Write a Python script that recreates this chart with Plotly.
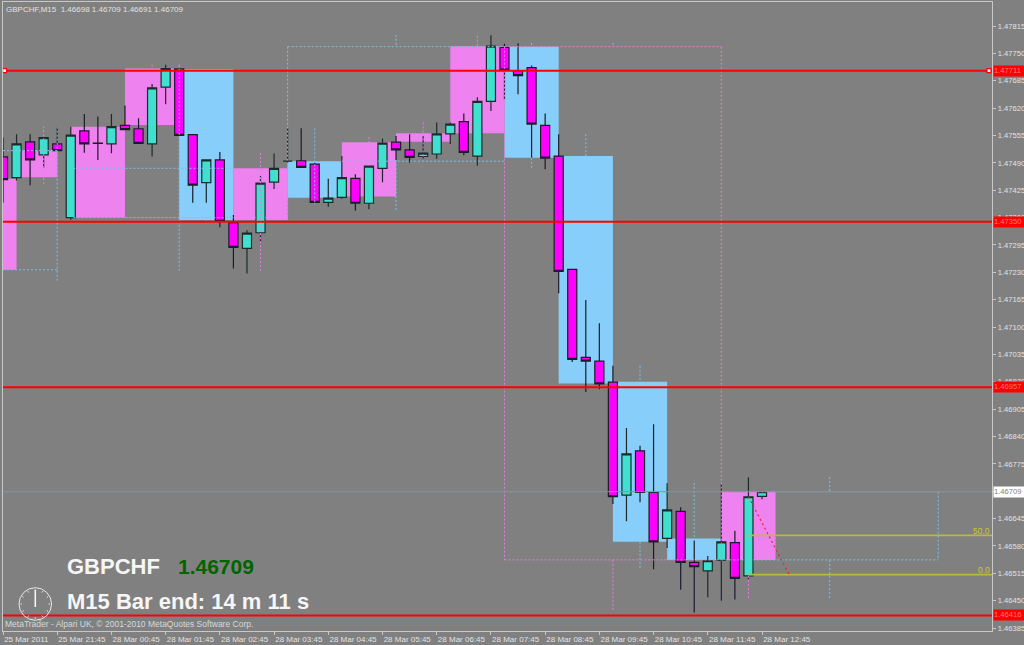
import math
import plotly.graph_objects as go

# ---------- data ----------
bar_index = list(range(57))
opens = [1.47504,1.47455,1.47540,1.47509,1.47535,1.47360,1.47566,1.47537,1.47535,1.47579,
         1.47571,1.47535,1.47670,1.47713,1.47557,1.47443,1.47497,1.47348,1.47287,1.47324,
         1.47444,1.47494,1.47495,1.47487,1.47396,1.47408,1.47453,1.47394,1.47477,1.47539,
         1.47521,1.47505,1.47511,1.47559,1.47588,1.47506,1.47636,1.47764,1.47709,1.47716,
         1.47579,1.47506,1.47237,1.47028,1.47019,1.46969,1.46701,1.46806,1.46707,1.46598,
         1.46662,1.46541,1.46521,1.46546,1.46588,1.46509,1.46698]
highs = [1.47551,1.47558,1.47558,1.47551,1.47576,1.47576,1.47606,1.47600,1.47606,1.47626,
         1.47596,1.47677,1.47723,1.47714,1.47557,1.47497,1.47516,1.47366,1.47330,1.47459,
         1.47512,1.47573,1.47572,1.47490,1.47452,1.47506,1.47463,1.47482,1.47548,1.47554,
         1.47558,1.47554,1.47586,1.47586,1.47607,1.47646,1.47793,1.47773,1.47774,1.47721,
         1.47607,1.47558,1.47237,1.47164,1.47109,1.47008,1.46860,1.46818,1.46869,1.46729,
         1.46672,1.46593,1.46556,1.46727,1.46616,1.46743,1.46709]
lows = [1.47395,1.47448,1.47437,1.47478,1.47518,1.47355,1.47514,1.47497,1.47513,1.47568,
        1.47535,1.47505,1.47629,1.47554,1.47395,1.47395,1.47337,1.47239,1.47227,1.47301,
        1.47428,1.47490,1.47479,1.47395,1.47386,1.47405,1.47376,1.47380,1.47444,1.47497,
        1.47490,1.47497,1.47500,1.47535,1.47508,1.47483,1.47613,1.47639,1.47653,1.47502,
        1.47475,1.47180,1.47017,1.46946,1.46952,1.46680,1.46639,1.46684,1.46525,1.46575,
        1.46476,1.46422,1.46458,1.46450,1.46453,1.46501,1.46691]
closes = [1.47450,1.47535,1.47497,1.47550,1.47519,1.47556,1.47535,1.47536,1.47576,1.47569,
          1.47536,1.47668,1.47714,1.47555,1.47437,1.47497,1.47351,1.47289,1.47323,1.47442,
          1.47477,1.47494,1.47479,1.47396,1.47406,1.47455,1.47394,1.47482,1.47537,1.47521,
          1.47503,1.47513,1.47559,1.47582,1.47515,1.47636,1.47767,1.47710,1.47697,1.47582,
          1.47501,1.47232,1.47023,1.47019,1.46965,1.46697,1.46799,1.46707,1.46590,1.46666,
          1.46541,1.46531,1.46545,1.46590,1.46503,1.46697,1.46709]

# higher time-frame boxes
box_start = [-1,1,5,9,13,17,21,25,29,33,37,41,45,49,53]
box_end   = [1,4,9,13,17,21,25,29,33,37,41,45,49,53,57]
box_high  = [1.47452,1.47519,1.47576,1.47714,1.47712,1.47477,1.47494,1.47539,1.47560,1.47767,1.47766,1.47506,1.46970,1.46598,1.46709]
box_low   = [1.47236,1.47456,1.47360,1.47580,1.47354,1.47354,1.47407,1.47410,1.47540,1.47560,1.47502,1.46966,1.46590,1.46547,1.46547]
box_kind  = ["up","up","up","up","down","up","down","up","up","up","down","down","down","down","up"]

# dashed segments: x0, price0, x1, price1
blue_segments = [
    (4,1.47576,4,1.47208),(0,1.47519,4,1.47519),(0,1.47236,4,1.47236),(13,1.47723,13,1.47234),
    (5.2,1.47477,17,1.47477),(5.2,1.47360,21,1.47360),(21,1.47766,21,1.47354),(21,1.47766,37,1.47766),
    (25,1.47494,37,1.47494),(23,1.47572,23,1.47390),(29,1.47794,29,1.47766),(29,1.47497,29,1.47378),
    (39,1.47775,39,1.47766),(39,1.47502,39,1.47477),(43,1.47558,43,1.47506),(47,1.47008,47,1.46970),
    (47,1.46590,47,1.46527),(51,1.46730,51,1.46598),(15,1.47354,15,1.47345),
    (53,1.46709,69,1.46709),(53,1.46547,69,1.46547),(69,1.46709,69,1.46547),
    (61,1.46744,61,1.46709),(61,1.46547,61,1.46456),
]
pink_segments = [
    (3,1.47577,3,1.47440),(11,1.47723,11,1.47714),(19,1.47513,19,1.47234),(27,1.47551,27,1.47539),
    (31,1.47586,31,1.47493),(35,1.47792,35,1.47767),(37,1.47766,53,1.47766),(37,1.47766,37,1.46547),
    (37,1.46547,53,1.46547),(53,1.47766,53,1.46547),(45,1.47775,45,1.47766),(45,1.46547,45,1.46424),
    (55,1.46509,55,1.46456),
]

level_prices = [1.47709,1.47350,1.46957,1.46415]
level_texts = ["1.47711","1.47350","1.46957","1.46416"]
last_price = 1.46709
fib_prices = [1.46605,1.46512]
fib_texts = ["50.0","0.0"]
fib_start = 55
fib_trend_x = [55,58]
fib_trend_y = [1.46697,1.46512]

y_ticks = [1.47815,1.47750,1.47685,1.47620,1.47555,1.47490,1.47425,1.47360,1.47295,1.47230,1.47165,1.47100,
           1.47035,1.46970,1.46905,1.46840,1.46775,1.46710,1.46645,1.46580,1.46515,1.46450,1.46385]
x_ticks = list(range(0,57,4))
x_labels = ["25 Mar 2011","25 Mar 21:45","28 Mar 00:45","28 Mar 01:45","28 Mar 02:45","28 Mar 03:45",
            "28 Mar 04:45","28 Mar 05:45","28 Mar 06:45","28 Mar 07:45","28 Mar 08:45","28 Mar 09:45",
            "28 Mar 10:45","28 Mar 11:45","28 Mar 12:45"]

# ---------- styling ----------
W, H = 1024, 645
L, R, T, B = 3, 992.5, 2, 631
X_MAX = 72.97
Y_MIN, Y_MAX = 1.463781, 1.47872
GREY = "#808080"; AX = "#c8c8c8"; TXT = "#e2e2e2"
PINK = "#ee82ee"; BLUE = "#87cefa"; DASH_B = "#7fbfe8"; DASH_P = "#e07fe0"
FONT = "Liberation Sans"

def px(x): return (x - L) / (R - L)
def py(y): return 1 - (y - T) / (B - T)

def seg(segs):
    xs, ys = [], []
    for x0, y0, x1, y1 in segs:
        xs += [x0, x1, None]; ys += [y0, y1, None]
    return xs, ys

fig = go.Figure()
fig.add_trace(go.Bar(
    x=[(a + b) / 2 for a, b in zip(box_start, box_end)],
    width=[b - a for a, b in zip(box_start, box_end)],
    base=box_low,
    y=[h - l for h, l in zip(box_high, box_low)],
    marker=dict(color=[PINK if k == "up" else BLUE for k in box_kind], line=dict(width=0)),
))
fig.add_trace(go.Candlestick(
    x=bar_index, open=opens, high=highs, low=lows, close=closes, whiskerwidth=0,
    increasing=dict(fillcolor="#40e0d0", line=dict(color="#1c2a2a", width=1.2)),
    decreasing=dict(fillcolor="#ff00ff", line=dict(color="#1c1c28", width=1.2)),
))
bx, by = seg(blue_segments)
fig.add_trace(go.Scatter(x=bx, y=by, mode="lines", line=dict(color=DASH_B, width=1, dash="2px,2px")))
px_, py_ = seg(pink_segments)
fig.add_trace(go.Scatter(x=px_, y=py_, mode="lines", line=dict(color=DASH_P, width=1, dash="2px,2px")))
fig.add_trace(go.Scatter(x=[0, X_MAX], y=[last_price, last_price], mode="lines", line=dict(color="#86939f", width=1)))
for p in fib_prices:
    fig.add_trace(go.Scatter(x=[fib_start, X_MAX], y=[p, p], mode="lines", line=dict(color="#bdb93c", width=1.8)))
fig.add_trace(go.Scatter(x=fib_trend_x, y=fib_trend_y, mode="lines", line=dict(color="#e8242c", width=1.2, dash="2px,3px")))
for p in level_prices:
    fig.add_trace(go.Scatter(x=[0, X_MAX], y=[p, p], mode="lines", line=dict(color="#ff0000", width=2)))
fig.add_trace(go.Scatter(x=[0.12, 72.75], y=[level_prices[0]] * 2, mode="markers", cliponaxis=False,
                         marker=dict(symbol="square", size=4, color="#ffffff", line=dict(color="#ff0000", width=1.2))))

ann = []
def text(x, y, s, size=8, color=TXT, bold=False, anchor="left"):
    shift = -2 if anchor == "left" else 2
    ann.append(dict(x=px(x + shift), y=py(y), xref="paper", yref="paper", text=f"<b>{s}</b>" if bold else s,
                    showarrow=False, xanchor=anchor, yanchor="middle", align="left",
                    font=dict(family=FONT, size=size, color=color)))

text(6, 9, "GBPCHF,M15&#160;&#160;1.46698 1.46709 1.46691 1.46709")
text(5, 624, "MetaTrader - Alpari UK, © 2001-2010 MetaQuotes Software Corp.", size=8.5, color="#d8d8d8")
text(67, 566, "GBPCHF", size=22, color="#f6f6f6", bold=True)
text(178, 566, "1.46709", size=21, color="#006400", bold=True)
text(67, 601, "M15 Bar end: 14 m 11 s", size=22, color="#f6f6f6", bold=True)
text(991, 531, fib_texts[0], size=8.5, color="#cdc93e", anchor="right")
text(991, 570, fib_texts[1], size=8.5, color="#cdc93e", anchor="right")

for p, s in zip(level_prices, level_texts):
    ann.append(dict(x=px(993.3), y=p, xref="paper", yref="y", text=s, showarrow=False, xanchor="left",
                    yanchor="middle", align="left", width=30, height=9.5, borderpad=0, bgcolor="#ff0000",
                    font=dict(family=FONT, size=7.6, color="#ff7a7a")))
ann.append(dict(x=px(993.3), y=last_price, xref="paper", yref="y", text="1.46709", showarrow=False, xanchor="left",
                yanchor="middle", align="left", width=30, height=9.5, borderpad=0, bgcolor="#ffffff",
                font=dict(family=FONT, size=7.6, color="#808080")))

# clock decoration
cx, cy, r = 35.3, 604, 16.3
shapes = [dict(type="circle", xref="paper", yref="paper", x0=px(cx - r), x1=px(cx + r), y0=py(cy + r), y1=py(cy - r),
               line=dict(color="#e8e8e8", width=1))]
shapes.append(dict(type="line", xref="paper", yref="paper", x0=px(cx), x1=px(cx), y0=py(cy + 3), y1=py(cy - 14),
                   line=dict(color="#f4f4f4", width=1.6)))
for k in range(12):
    a = k * math.pi / 6
    shapes.append(dict(type="line", xref="paper", yref="paper",
                       x0=px(cx + (r - 3) * math.sin(a)), x1=px(cx + (r - 1.5) * math.sin(a)),
                       y0=py(cy - (r - 3) * math.cos(a)), y1=py(cy - (r - 1.5) * math.cos(a)),
                       line=dict(color="#e8e8e8", width=1)))

fig.update_layout(
    width=W, height=H, autosize=False, showlegend=False, hovermode=False,
    paper_bgcolor=GREY, plot_bgcolor=GREY, barmode="overlay", boxgap=0.33, boxgroupgap=0,
    margin=dict(l=L, r=W - R, t=T, b=H - B, pad=0),
    annotations=ann, shapes=shapes,
    font=dict(family=FONT, size=8, color=TXT),
    xaxis=dict(range=[0, X_MAX], tickmode="array", tickvals=x_ticks, ticktext=x_labels, tickangle=0,
               ticks="outside", ticklen=3, tickcolor=AX, tickwidth=1, showgrid=False, zeroline=False,
               showline=True, linecolor=AX, linewidth=1.3, mirror=True, rangeslider=dict(visible=False),
               ticklabelposition="outside right", tickfont=dict(family=FONT, size=8, color=TXT), automargin=False),
    yaxis=dict(range=[Y_MIN, Y_MAX], side="right", tickmode="array", tickvals=y_ticks,
               ticktext=[f"{v:.5f}" for v in y_ticks], ticks="outside", ticklen=3, tickcolor=AX, tickwidth=1,
               showgrid=False, zeroline=False, showline=True, linecolor=AX, linewidth=1.3, mirror=True,
               tickfont=dict(family=FONT, size=7.6, color=TXT), automargin=False),
)

fig.write_html("out.html", config=dict(displayModeBar=False),
               post_script="document.body.style.margin='0';document.body.style.overflow='hidden';document.body.style.background='#808080';")
